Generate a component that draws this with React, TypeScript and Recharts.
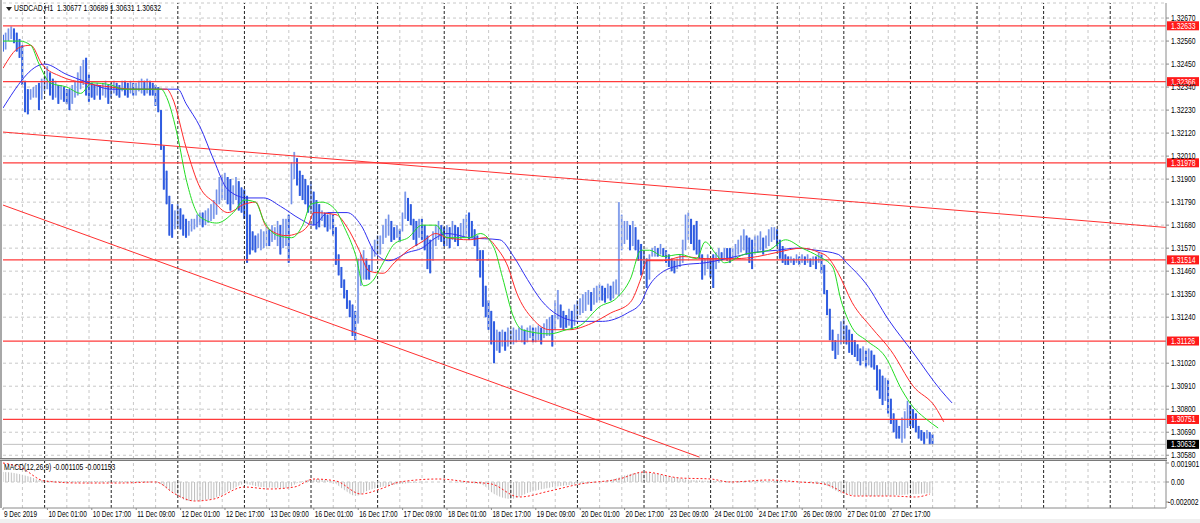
import React from 'react';
import { ComposedChart, Bar, Line, Area, XAxis, YAxis, CartesianGrid, ReferenceLine } from 'recharts';

// hourly candles, USDCAD H1, 9 Dec - 27 Dec 2019 (high / low per bar)
const hi = [
  1.3259, 1.3260, 1.3262, 1.3263, 1.3262, 1.3260, 1.3257, 1.3254,
  1.3237, 1.3233, 1.3233, 1.3234, 1.3235, 1.3236, 1.3238, 1.3239,
  1.3244, 1.3241, 1.3238, 1.3237, 1.3235, 1.3235, 1.3234, 1.3233,
  1.3233, 1.3235, 1.3237, 1.3241, 1.3244, 1.3247, 1.3248, 1.3240,
  1.3236, 1.3235, 1.3236, 1.3235, 1.3236, 1.3237, 1.3235, 1.3236,
  1.3237, 1.3236, 1.3235, 1.3237, 1.3237, 1.3236, 1.3237, 1.3236,
  1.3236, 1.3237, 1.3238, 1.3237, 1.3238, 1.3237, 1.3236, 1.3235,
  1.3234, 1.3223, 1.3206, 1.3194, 1.3182, 1.3178, 1.3175, 1.3178,
  1.3176, 1.3173, 1.3171, 1.3170, 1.3171, 1.3171, 1.3173, 1.3174,
  1.3174, 1.3175, 1.3176, 1.3178, 1.3180, 1.3185, 1.3191, 1.3192,
  1.3193, 1.3191, 1.3190, 1.3187, 1.3191, 1.3189, 1.3186, 1.3185,
  1.3182, 1.3173, 1.3165, 1.3163, 1.3164, 1.3166, 1.3165, 1.3167,
  1.3166, 1.3168, 1.3167, 1.3170, 1.3168, 1.3171, 1.3171, 1.3173,
  1.3198, 1.3203, 1.3200, 1.3194, 1.3192, 1.3190, 1.3187, 1.3189,
  1.3184, 1.3180, 1.3178, 1.3175, 1.3174, 1.3173, 1.3174, 1.3173,
  1.3167, 1.3154, 1.3148, 1.3142, 1.3137, 1.3132, 1.3130, 1.3127,
  1.3152, 1.3154, 1.3156, 1.3152, 1.3149, 1.3158, 1.3161, 1.3163,
  1.3163, 1.3168, 1.3171, 1.3173, 1.3170, 1.3167, 1.3168, 1.3166,
  1.3174, 1.3184, 1.3181, 1.3178, 1.3171, 1.3170, 1.3171, 1.3171,
  1.3168, 1.3163, 1.3161, 1.3165, 1.3168, 1.3170, 1.3168, 1.3167,
  1.3168, 1.3167, 1.3170, 1.3168, 1.3167, 1.3169, 1.3171, 1.3173,
  1.3174, 1.3170, 1.3166, 1.3163, 1.3156, 1.3156, 1.3139, 1.3132,
  1.3127, 1.3122, 1.3118, 1.3117, 1.3118, 1.3117, 1.3119, 1.3118,
  1.3119, 1.3118, 1.3119, 1.3120, 1.3118, 1.3119, 1.3120, 1.3119,
  1.3119, 1.3120, 1.3119, 1.3121, 1.3123, 1.3124, 1.3125, 1.3132,
  1.3137, 1.3130, 1.3127, 1.3125, 1.3128, 1.3127, 1.3130, 1.3132,
  1.3133, 1.3135, 1.3136, 1.3137, 1.3136, 1.3138, 1.3139, 1.3140,
  1.3139, 1.3138, 1.3140, 1.3139, 1.3141, 1.3142, 1.3179, 1.3173,
  1.3170, 1.3170, 1.3168, 1.3170, 1.3167, 1.3161, 1.3159, 1.3156,
  1.3152, 1.3154, 1.3157, 1.3158, 1.3157, 1.3159, 1.3157, 1.3156,
  1.3154, 1.3152, 1.3151, 1.3152, 1.3154, 1.3161, 1.3173, 1.3174,
  1.3171, 1.3168, 1.3170, 1.3161, 1.3154, 1.3152, 1.3154, 1.3152,
  1.3154, 1.3155, 1.3157, 1.3155, 1.3157, 1.3157, 1.3157, 1.3157,
  1.3159, 1.3161, 1.3163, 1.3166, 1.3163, 1.3162, 1.3161, 1.3163,
  1.3163, 1.3165, 1.3162, 1.3163, 1.3166, 1.3167, 1.3167, 1.3166,
  1.3161, 1.3158, 1.3154, 1.3153, 1.3153, 1.3152, 1.3154, 1.3153,
  1.3154, 1.3153, 1.3154, 1.3152, 1.3153, 1.3153, 1.3155, 1.3154,
  1.3149, 1.3137, 1.3128, 1.3118, 1.3113, 1.3116, 1.3122, 1.3123,
  1.3120, 1.3118, 1.3116, 1.3113, 1.3111, 1.3109, 1.3110, 1.3108,
  1.3109, 1.3108, 1.3106, 1.3101, 1.3099, 1.3096, 1.3095, 1.3094,
  1.3085, 1.3078, 1.3075, 1.3072, 1.3076, 1.3079, 1.3084, 1.3082,
  1.3080, 1.3078, 1.3072, 1.3070, 1.3069, 1.3070, 1.3069, 1.3068,
];
const lo = [
  1.3251, 1.3252, 1.3256, 1.3257, 1.3255, 1.3251, 1.3248, 1.3235,
  1.3222, 1.3221, 1.3228, 1.3229, 1.3229, 1.3223, 1.3228, 1.3232,
  1.3233, 1.3230, 1.3228, 1.3229, 1.3226, 1.3228, 1.3227, 1.3226,
  1.3223, 1.3226, 1.3229, 1.3230, 1.3233, 1.3235, 1.3230, 1.3227,
  1.3229, 1.3228, 1.3230, 1.3228, 1.3230, 1.3229, 1.3226, 1.3229,
  1.3231, 1.3230, 1.3229, 1.3232, 1.3230, 1.3229, 1.3231, 1.3230,
  1.3230, 1.3232, 1.3231, 1.3230, 1.3231, 1.3230, 1.3230, 1.3225,
  1.3222, 1.3204, 1.3185, 1.3178, 1.3163, 1.3162, 1.3166, 1.3167,
  1.3166, 1.3163, 1.3162, 1.3163, 1.3165, 1.3166, 1.3167, 1.3168,
  1.3167, 1.3168, 1.3169, 1.3170, 1.3171, 1.3173, 1.3178, 1.3180,
  1.3180, 1.3178, 1.3175, 1.3178, 1.3180, 1.3175, 1.3174, 1.3171,
  1.3150, 1.3154, 1.3156, 1.3155, 1.3157, 1.3156, 1.3157, 1.3158,
  1.3158, 1.3160, 1.3161, 1.3158, 1.3154, 1.3157, 1.3158, 1.3150,
  1.3178, 1.3190, 1.3187, 1.3182, 1.3180, 1.3178, 1.3174, 1.3175,
  1.3168, 1.3166, 1.3167, 1.3170, 1.3167, 1.3165, 1.3166, 1.3163,
  1.3149, 1.3144, 1.3138, 1.3133, 1.3128, 1.3124, 1.3115, 1.3113,
  1.3121, 1.3139, 1.3142, 1.3142, 1.3142, 1.3146, 1.3153, 1.3154,
  1.3154, 1.3159, 1.3162, 1.3163, 1.3160, 1.3161, 1.3162, 1.3160,
  1.3165, 1.3171, 1.3170, 1.3168, 1.3161, 1.3158, 1.3162, 1.3161,
  1.3156, 1.3147, 1.3145, 1.3151, 1.3158, 1.3161, 1.3160, 1.3158,
  1.3158, 1.3157, 1.3161, 1.3160, 1.3158, 1.3161, 1.3162, 1.3163,
  1.3161, 1.3162, 1.3158, 1.3151, 1.3143, 1.3129, 1.3124, 1.3118,
  1.3111, 1.3102, 1.3108, 1.3107, 1.3110, 1.3108, 1.3110, 1.3111,
  1.3111, 1.3112, 1.3113, 1.3112, 1.3111, 1.3112, 1.3114, 1.3112,
  1.3112, 1.3113, 1.3111, 1.3114, 1.3115, 1.3115, 1.3110, 1.3118,
  1.3123, 1.3119, 1.3118, 1.3119, 1.3120, 1.3118, 1.3120, 1.3123,
  1.3125, 1.3126, 1.3127, 1.3130, 1.3127, 1.3130, 1.3131, 1.3132,
  1.3132, 1.3131, 1.3133, 1.3132, 1.3133, 1.3135, 1.3134, 1.3156,
  1.3159, 1.3161, 1.3156, 1.3158, 1.3156, 1.3151, 1.3144, 1.3147,
  1.3138, 1.3142, 1.3153, 1.3153, 1.3153, 1.3154, 1.3153, 1.3150,
  1.3148, 1.3146, 1.3145, 1.3147, 1.3148, 1.3150, 1.3156, 1.3161,
  1.3159, 1.3156, 1.3154, 1.3152, 1.3142, 1.3144, 1.3147, 1.3143,
  1.3138, 1.3147, 1.3150, 1.3151, 1.3152, 1.3151, 1.3150, 1.3152,
  1.3152, 1.3154, 1.3155, 1.3156, 1.3154, 1.3150, 1.3147, 1.3154,
  1.3155, 1.3156, 1.3154, 1.3157, 1.3158, 1.3160, 1.3161, 1.3158,
  1.3152, 1.3150, 1.3149, 1.3149, 1.3150, 1.3149, 1.3150, 1.3149,
  1.3150, 1.3149, 1.3150, 1.3148, 1.3149, 1.3147, 1.3150, 1.3145,
  1.3135, 1.3125, 1.3113, 1.3108, 1.3104, 1.3106, 1.3111, 1.3112,
  1.3111, 1.3107, 1.3106, 1.3105, 1.3103, 1.3101, 1.3103, 1.3100,
  1.3101, 1.3100, 1.3099, 1.3089, 1.3085, 1.3082, 1.3084, 1.3078,
  1.3073, 1.3069, 1.3066, 1.3066, 1.3064, 1.3066, 1.3071, 1.3072,
  1.3071, 1.3069, 1.3066, 1.3065, 1.3063, 1.3066, 1.3063, 1.3063,
];

// Alligator lines (bar index, value) - jaw blue, teeth red, lips green
const jawIdx = [0, 15, 23, 31, 39, 47, 63, 66, 71, 76, 81, 88, 94, 100, 107, 112, 117, 124, 129, 134, 139, 146, 151, 156, 160, 168, 179, 184, 189, 194, 200, 208, 216, 225, 230, 232, 237, 245, 253, 264, 271, 279, 286, 293, 301, 304, 311, 319, 328, 338, 342];
const jawVal = [1.3224, 1.3245, 1.3240, 1.3236, 1.3233, 1.3233, 1.3233, 1.3226, 1.3215, 1.3199, 1.3185, 1.3181, 1.3181, 1.3177, 1.3171, 1.3168, 1.3174, 1.3174, 1.3168, 1.3155, 1.3151, 1.3155, 1.3157, 1.3162, 1.3164, 1.3162, 1.3161, 1.3153, 1.3142, 1.3132, 1.3125, 1.3122, 1.3122, 1.3126, 1.3131, 1.3137, 1.3145, 1.3149, 1.3150, 1.3153, 1.3155, 1.3156, 1.3157, 1.3156, 1.3154, 1.3150, 1.3140, 1.3123, 1.3107, 1.3089, 1.3083];
const teethIdx = [0, 6, 10, 14, 21, 29, 39, 47, 59, 61, 66, 71, 76, 81, 87, 91, 95, 102, 106, 110, 112, 120, 124, 128, 132, 137, 141, 146, 151, 156, 160, 168, 174, 178, 182, 185, 191, 197, 204, 212, 219, 226, 230, 232, 238, 245, 253, 264, 272, 279, 288, 294, 297, 301, 306, 313, 320, 328, 336, 339];
const teethVal = [1.3243, 1.3253, 1.3254, 1.3245, 1.3239, 1.3236, 1.3234, 1.3233, 1.3233, 1.3229, 1.3205, 1.3186, 1.3179, 1.3174, 1.3178, 1.3179, 1.3167, 1.3163, 1.3164, 1.3168, 1.3174, 1.3173, 1.3167, 1.3157, 1.3146, 1.3145, 1.3150, 1.3156, 1.3160, 1.3164, 1.3162, 1.3161, 1.3162, 1.3157, 1.3148, 1.3136, 1.3123, 1.3118, 1.3118, 1.3121, 1.3126, 1.3131, 1.3143, 1.3151, 1.3151, 1.3153, 1.3152, 1.3152, 1.3153, 1.3155, 1.3157, 1.3155, 1.3153, 1.3145, 1.3131, 1.3119, 1.3108, 1.3091, 1.3081, 1.3074];
const lipsIdx = [0, 6, 10, 13, 17, 23, 28, 32, 39, 43, 49, 57, 59, 63, 66, 71, 77, 83, 87, 91, 94, 99, 104, 108, 111, 115, 120, 123, 127, 130, 133, 137, 141, 146, 151, 156, 160, 168, 172, 177, 180, 184, 187, 197, 203, 208, 215, 221, 226, 230, 233, 238, 244, 250, 253, 257, 260, 267, 276, 282, 288, 294, 299, 302, 306, 311, 318, 324, 328, 332, 337];
const lipsVal = [1.3256, 1.3256, 1.3254, 1.3245, 1.3236, 1.3234, 1.3231, 1.3236, 1.3235, 1.3233, 1.3233, 1.3233, 1.3229, 1.3210, 1.3190, 1.3172, 1.3169, 1.3174, 1.3180, 1.3179, 1.3170, 1.3163, 1.3162, 1.3168, 1.3178, 1.3179, 1.3175, 1.3167, 1.3154, 1.3139, 1.3141, 1.3150, 1.3159, 1.3162, 1.3168, 1.3168, 1.3162, 1.3162, 1.3164, 1.3157, 1.3143, 1.3124, 1.3118, 1.3116, 1.3118, 1.3120, 1.3129, 1.3133, 1.3142, 1.3156, 1.3156, 1.3153, 1.3154, 1.3152, 1.3160, 1.3154, 1.3150, 1.3154, 1.3156, 1.3161, 1.3157, 1.3153, 1.3148, 1.3132, 1.3119, 1.3113, 1.3105, 1.3089, 1.3081, 1.3076, 1.3071];

// MACD(12,26,9): histogram and signal (bar index, value)
const histIdx = [0, 4, 10, 13, 21, 35, 49, 55, 60, 67, 75, 82, 87, 93, 102, 107, 112, 118, 123, 127, 132, 138, 143, 157, 172, 177, 183, 190, 201, 208, 219, 226, 231, 239, 248, 258, 273, 287, 296, 303, 312, 323, 335];
const histVal = [0.0010, 0.0009, 0.0005, 0.0002, 0.0001, 0.0001, 0.0001, 0, -0.0008, -0.0019, -0.0017, -0.0008, -0.0002, -0.0005, -0.0006, 0, 0.0003, 0.0001, -0.0008, -0.0014, -0.0008, -0.0004, -0.0002, 0, -0.0002, -0.0012, -0.0017, -0.0010, -0.0004, -0.0002, 0.0002, 0.0008, 0.0010, 0.0006, 0.0002, 0.0001, 0.0001, 0, -0.0003, -0.0012, -0.0014, -0.0013, -0.0011];
const sigIdx = [0, 6, 15, 28, 42, 55, 62, 69, 76, 87, 96, 105, 112, 120, 129, 136, 143, 157, 168, 176, 186, 197, 208, 222, 231, 244, 255, 262, 276, 287, 296, 307, 320, 329, 334];
const sigVal = [0.0019, 0.0015, 0.0001, -0.0001, -0.0001, 0, -0.0012, -0.0019, -0.0017, -0.0005, -0.0007, -0.0005, 0.0003, 0.0001, -0.0012, -0.0007, 0, 0.0003, 0, -0.0002, -0.0015, -0.0009, -0.0002, 0.0003, 0.0010, 0.0004, 0.0003, 0, 0.0002, 0, -0.0002, -0.0014, -0.0014, -0.0015, -0.0012];

const priceTicks = [1.3267, 1.3256, 1.3245, 1.3234, 1.3223, 1.3212, 1.3201, 1.319, 1.3179, 1.3168, 1.3157, 1.3146, 1.3135, 1.3124, 1.3102, 1.3091, 1.308, 1.3069, 1.3058];
const levels = [1.32633, 1.32366, 1.31978, 1.31514, 1.31126, 1.30751];
const lastPrice = 1.30632;
const upperTrend = [{ x: 0, y: 1.32125 }, { x: 419.1, y: 1.31669 }];
// lower trend line: start and end (bar index, price)
const lowerTrendIdx = [0, 251];
const lowerTrendVal = [1.31776, 1.30571];
const macdTicks = [0.001901, 0, -0.002002];
const timeIdx = [0, 16, 32, 48, 64, 80, 96, 112, 128, 144, 160, 176, 192, 208, 224, 240, 256, 272, 288, 304, 320];
const timeLabels = ['9 Dec 2019', '10 Dec 01:00', '10 Dec 17:00', '11 Dec 09:00', '12 Dec 01:00', '12 Dec 17:00', '13 Dec 09:00', '16 Dec 01:00', '16 Dec 17:00', '17 Dec 09:00', '18 Dec 01:00', '18 Dec 17:00', '19 Dec 09:00', '20 Dec 01:00', '20 Dec 17:00', '23 Dec 09:00', '24 Dec 01:00', '24 Dec 17:00', '26 Dec 09:00', '27 Dec 01:00', '27 Dec 17:00'];

const X_MAX = 419.1;
const LAST = 342;
const FONT = 'Liberation Sans, Arial, sans-serif';

const rows: any[] = [];
for (let i = 0; i <= LAST; i++) rows.push({ i });
hi.forEach((h, i) => {
  rows[i].range = [lo[i], h];
  rows[i].bull = i > 0 && h + lo[i] >= hi[i - 1] + lo[i - 1];
});
jawIdx.forEach((k, j) => (rows[k].jaw = jawVal[j]));
teethIdx.forEach((k, j) => (rows[k].teeth = teethVal[j]));
lipsIdx.forEach((k, j) => (rows[k].lips = lipsVal[j]));
lowerTrendIdx.forEach((k, j) => (rows[k].trendLo = lowerTrendVal[j]));

const macdRows: any[] = [];
for (let i = 0; i <= LAST; i++) macdRows.push({ i });
histIdx.forEach((k, j) => (macdRows[k].hist = histVal[j]));
sigIdx.forEach((k, j) => (macdRows[k].sig = sigVal[j]));

// grid every 8 bars, day separator every 24
const gridLight: number[] = [];
const gridDark: number[] = [];
for (let k = 7; k < X_MAX; k += 8) ((k - 15) % 24 === 0 ? gridDark : gridLight).push(k);

const Candle = (p: any) => {
  const { x, y, width, height, payload } = p;
  if (!payload || !payload.range || isNaN(y)) return null;
  const cx = x + width / 2;
  const top = Math.min(y, y + height);
  const h = Math.max(Math.abs(height), 1);
  return (
    <g>
      <rect x={cx - 1} y={top} width={2} height={h} fill={payload.bull ? '#a8bbf0' : '#2f5ce0'} />
      <line x1={cx} x2={cx} y1={top} y2={top + h} stroke={payload.bull ? '#6f8ee8' : '#2f5ce0'} strokeWidth={1} />
    </g>
  );
};

const PriceTick = ({ x, y, payload }: any) => (
  <text transform={`translate(${x},${y + 3}) scale(0.8,1)`} fontSize={8.5} fontFamily={FONT} fill="#000">
    {Number(payload.value).toFixed(5)}
  </text>
);

const MacdTick = ({ x, y, payload }: any) => {
  const v = payload.value;
  const dx = v < 0 ? -3 : 0;
  const dy = v > 0 ? 4.5 : 3;
  return (
    <text transform={`translate(${x + dx},${y + dy}) scale(0.8,1)`} fontSize={8.5} fontFamily={FONT} fill="#000">
      {v === 0 ? '0.00' : Number(v).toFixed(6)}
    </text>
  );
};

const TimeTick = ({ x, y, payload }: any) => {
  const k = timeIdx.indexOf(payload.value);
  return (
    <text transform={`translate(${x + 1},${y + 6}) scale(0.76,1)`} fontSize={8.5} fontFamily={FONT} fill="#000">
      {k >= 0 ? timeLabels[k] : ''}
    </text>
  );
};

const priceTag = (value: number, bg: string) => (props: any) => {
  const vb = props.viewBox || {};
  const x = vb.x + vb.width + 1;
  const y = vb.y;
  return (
    <g>
      <rect x={x} y={y - 4.5} width={32} height={9} fill={bg} />
      <text transform={`translate(${x + 4},${y + 3}) scale(0.8,1)`} fontSize={8.5} fontFamily={FONT} fill="#fff">
        {value.toFixed(5)}
      </text>
    </g>
  );
};

export default function App() {
  return (
    <div style={{ position: 'absolute', left: 0, top: 0, width: 1200, height: 523, background: '#fff', overflow: 'hidden' }}>
      <svg width={0} height={0} style={{ position: 'absolute' }}>
        <defs>
          <pattern id="histStripes" x={2.5} y={0} width={2.775} height={10} patternUnits="userSpaceOnUse">
            <rect x={0} y={0} width={1} height={10} fill="#bcbcbc" />
          </pattern>
        </defs>
      </svg>

      <div style={{ position: 'absolute', left: 0, top: 0 }}>
        <ComposedChart width={1200} height={461} data={rows} margin={{ top: 3, right: 0, bottom: 2, left: 3 }}>
          <CartesianGrid vertical={false} stroke="#c8c8c8" strokeDasharray="3 3" />
          {gridLight.map((g) => (
            <ReferenceLine key={'l' + g} x={g} stroke="#c8c8c8" strokeDasharray="3 3" />
          ))}
          {gridDark.map((g) => (
            <ReferenceLine key={'d' + g} x={g} stroke="#222" strokeDasharray="3 2" />
          ))}
          <XAxis type="number" dataKey="i" domain={[0, X_MAX]} hide allowDataOverflow />
          <YAxis
            orientation="right"
            width={34}
            type="number"
            domain={[1.30562, 1.32742]}
            allowDataOverflow
            ticks={priceTicks}
            interval={0}
            tick={<PriceTick />}
            tickSize={3}
            tickMargin={2}
            axisLine={{ stroke: '#8a8a8a' }}
            tickLine={{ stroke: '#8a8a8a' }}
          />
          <ReferenceLine y={lastPrice} stroke="#c0c0c0" label={priceTag(lastPrice, '#000')} />
          {levels.map((v) => (
            <ReferenceLine key={v} y={v} stroke="#ff3b3b" strokeWidth={1.2} label={priceTag(v, '#ff1a1a')} />
          ))}
          <ReferenceLine segment={upperTrend} stroke="#ff3030" ifOverflow="hidden" />
          <Line dataKey="trendLo" type="linear" stroke="#ff3030" strokeWidth={1} dot={false} connectNulls isAnimationActive={false} />
          <Bar dataKey="range" barSize={3} shape={<Candle />} isAnimationActive={false} />
          <Line dataKey="jaw" type="monotone" stroke="#3030f0" strokeWidth={1} dot={false} connectNulls isAnimationActive={false} />
          <Line dataKey="teeth" type="monotone" stroke="#ff2a2a" strokeWidth={1} dot={false} connectNulls isAnimationActive={false} />
          <Line dataKey="lips" type="monotone" stroke="#22dd22" strokeWidth={1} dot={false} connectNulls isAnimationActive={false} />
        </ComposedChart>
      </div>

      <div style={{ position: 'absolute', left: 0, top: 461 }}>
        <ComposedChart width={1200} height={62} data={macdRows} margin={{ top: 0, right: 0, bottom: 0, left: 3 }}>
          {gridLight.map((g) => (
            <ReferenceLine key={'l' + g} x={g} stroke="#c8c8c8" strokeDasharray="3 3" />
          ))}
          {gridDark.map((g) => (
            <ReferenceLine key={'d' + g} x={g} stroke="#222" strokeDasharray="3 2" />
          ))}
          <ReferenceLine y={0} stroke="#c8c8c8" strokeDasharray="3 3" />
          <XAxis
            type="number"
            dataKey="i"
            domain={[0, X_MAX]}
            allowDataOverflow
            ticks={timeIdx}
            interval={0}
            height={15}
            tick={<TimeTick />}
            tickSize={2}
            tickMargin={1}
            axisLine={{ stroke: '#8a8a8a' }}
            tickLine={{ stroke: '#8a8a8a' }}
          />
          <YAxis
            orientation="right"
            width={34}
            type="number"
            domain={[-0.0026, 0.0021]}
            allowDataOverflow
            ticks={macdTicks}
            interval={0}
            tick={<MacdTick />}
            tickSize={3}
            tickMargin={2}
            axisLine={{ stroke: '#8a8a8a' }}
            tickLine={{ stroke: '#8a8a8a' }}
          />
          <Area dataKey="hist" type="monotone" baseValue={0} stroke="none" fill="url(#histStripes)" fillOpacity={1} connectNulls isAnimationActive={false} />
          <Line dataKey="sig" type="monotone" stroke="#ff2020" strokeWidth={1} strokeDasharray="2 2" dot={false} connectNulls isAnimationActive={false} />
        </ComposedChart>
      </div>

      {/* frame pieces */}
      <div style={{ position: 'absolute', left: 0, top: 0, width: 2, height: 508, background: '#a8a8a8' }} />
      <div style={{ position: 'absolute', left: 0, top: 458, width: 1167, height: 1, background: '#7a7a7a' }} />
      <div style={{ position: 'absolute', left: 0, top: 459, width: 1167, height: 1, background: '#c4c4c4' }} />
      <div style={{ position: 'absolute', left: 0, top: 460, width: 1167, height: 1, background: '#7a7a7a' }} />
      <div style={{ position: 'absolute', left: 0, top: 519, width: 1200, height: 4, background: '#f0f0f0' }} />

      <div style={{ position: 'absolute', left: 6, top: 7, width: 0, height: 0, borderLeft: '3px solid transparent', borderRight: '3px solid transparent', borderTop: '4px solid #222' }} />
      <div style={{ position: 'absolute', left: 14, top: 3, fontFamily: FONT, fontSize: 8.5, lineHeight: '10px', whiteSpace: 'pre', transform: 'scaleX(0.8)', transformOrigin: 'left top', color: '#000' }}>
        {'USDCAD,H1  1.30677 1.30689 1.30631 1.30632'}
      </div>
      <div style={{ position: 'absolute', left: 4, top: 462, fontFamily: FONT, fontSize: 8.5, lineHeight: '10px', whiteSpace: 'pre', transform: 'scaleX(0.8)', transformOrigin: 'left top', color: '#000' }}>
        {'MACD(12,26,9) -0.001105 -0.001153'}
      </div>
    </div>
  );
}
